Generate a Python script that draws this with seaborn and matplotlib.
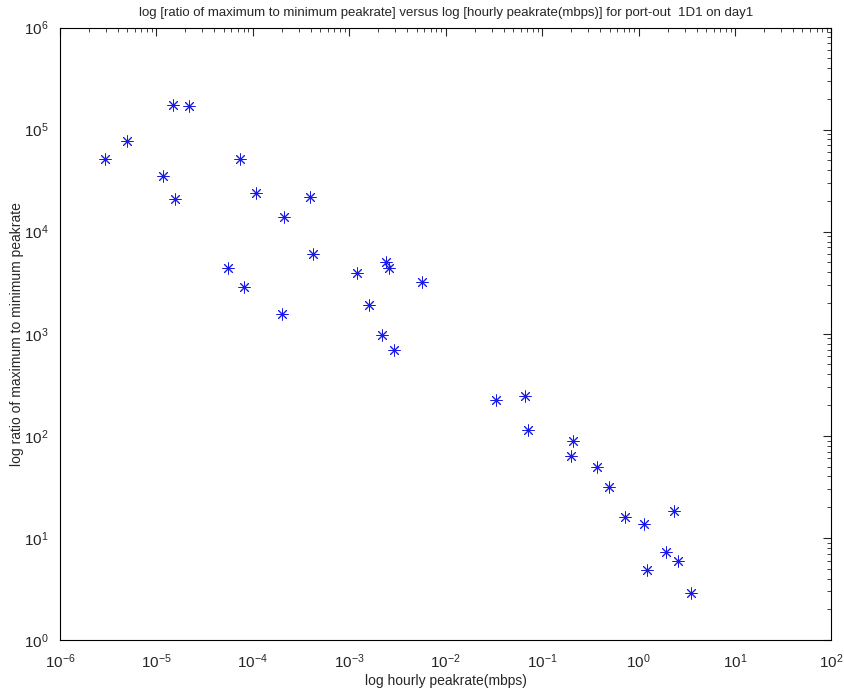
import numpy as np
import pandas as pd
import seaborn as sns
import matplotlib.pyplot as plt

# hourly peakrate (mbps) and ratio of max to min peakrate
peakrate = [2.9e-6, 4.9e-6, 1.5e-5, 2.2e-5, 1.17e-5, 1.55e-5, 7.4e-5, 1.09e-4,
            3.9e-4, 2.1e-4, 5.5e-5, 8.1e-5, 2.0e-4, 4.2e-4,
            1.2e-3, 2.4e-3, 2.6e-3, 5.7e-3, 1.6e-3, 2.2e-3, 2.9e-3,
            3.3e-2, 6.7e-2, 7.1e-2, 0.21, 0.20, 0.37, 0.49, 0.73, 1.15,
            2.35, 1.92, 2.57, 1.22, 3.5]
ratio = [5.2e4, 7.8e4, 1.75e5, 1.72e5, 3.5e4, 2.1e4, 5.2e4, 2.4e4,
         2.2e4, 1.4e4, 4.4e3, 2.9e3, 1.55e3, 6.0e3,
         3.9e3, 5.0e3, 4.4e3, 3.2e3, 1.9e3, 980, 700,
         222, 243, 114, 89, 63, 50, 31.6, 16.2, 13.6,
         18.3, 7.3, 6.0, 4.8, 2.9]

df = pd.DataFrame({'peakrate': peakrate, 'ratio': ratio})

sns.set_style('white')
plt.rcParams['font.family'] = ['Liberation Sans', 'DejaVu Sans']

fig = plt.figure(figsize=(8.45, 7.0), dpi=100)
ax = fig.add_axes([0.071, 0.0857, 0.913, 0.875])

sns.scatterplot(data=df, x='peakrate', y='ratio', marker=(8, 2, 0), s=65,
                color='#1a1ae6', linewidth=0.7, ax=ax)

ax.set_xscale('log')
ax.set_yscale('log')
ax.set_xlim(1e-6, 1e2)
ax.set_ylim(1e0, 1e6)
ax.set_xticks([10.0 ** k for k in range(-6, 3)])
ax.set_yticks([10.0 ** k for k in range(0, 7)])
ax.tick_params(which='both', direction='in', top=True, right=True,
               labelsize=11)
ax.tick_params(axis='x', which='major', pad=9)
ax.tick_params(axis='y', which='major', pad=8)
ax.tick_params(which='major', length=6)
ax.tick_params(which='minor', length=3)
for sp in ax.spines.values():
    sp.set_color('black')
    sp.set_linewidth(0.8)

ax.set_xlabel('log hourly peakrate(mbps)', fontsize=10, labelpad=2)
ax.set_ylabel('log ratio of maximum to minimum peakrate', fontsize=10, labelpad=0)
ax.set_title('log [ratio of maximum to minimum peakrate] versus log [hourly peakrate(mbps)] for port-out  1D1 on day1',
             fontsize=9.5, pad=8)

plt.savefig('out.png', dpi=100)
